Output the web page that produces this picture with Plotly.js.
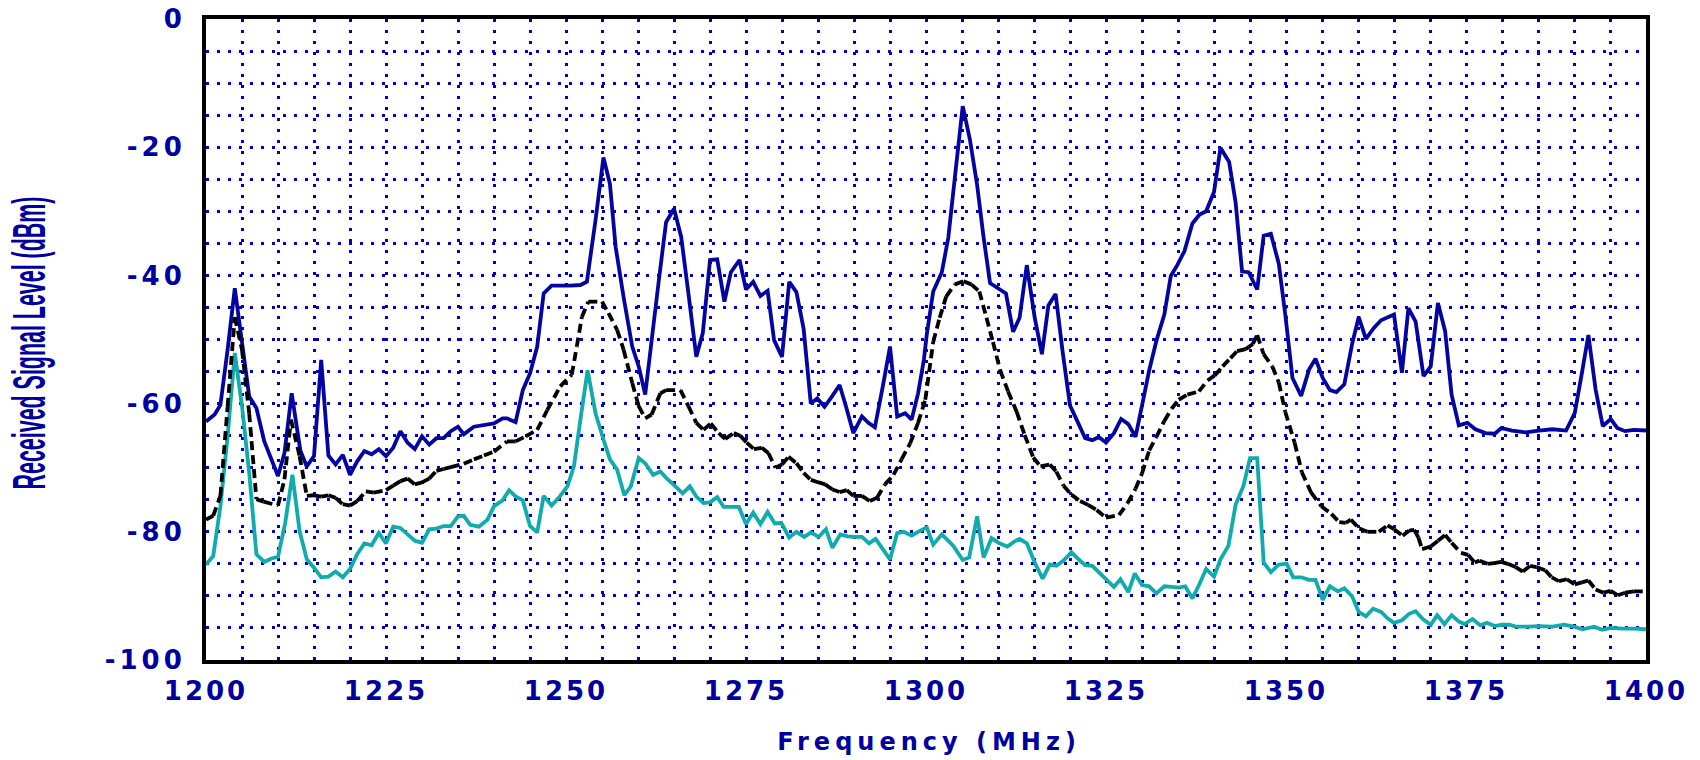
<!DOCTYPE html>
<html>
<head>
<meta charset="utf-8">
<script src="https://cdn.plot.ly/plotly-3.0.1.min.js"></script>
<style>
  html, body { margin: 0; padding: 0; background: #ffffff; }
  #chart { width: 1700px; height: 760px; }
</style>
</head>
<body>
<div id="chart"></div>
<script>
// ---- Data ----
const blueFreq = [1200,1201.2,1202,1203,1204,1206,1207,1208.1,1210,1210.9,1211.9,1213.1,1214,1215,1216,1217,1218,1219,1220,1221,1222,1223,1224,1225,1226,1227,1228,1229,1230,1231,1232,1233,1234,1235,1235.8,1237.2,1240,1241.2,1241.8,1243,1244,1245,1246,1246.9,1248,1250.6,1252,1252.9,1254.1,1255.2,1256.1,1256.9,1258,1259.2,1260.1,1261,1261.9,1262.9,1263.9,1265,1266,1267,1268.1,1269,1270,1271,1272,1272.9,1274.1,1275,1276,1277,1278,1278.9,1280,1281,1282,1283,1284,1284.9,1285.9,1287,1288,1288.9,1289.9,1291.1,1292,1292.9,1294,1295,1296,1297.1,1298,1298.9,1299.7,1300.1,1301,1302.2,1303.1,1304,1305.1,1306.1,1307.1,1308,1308.9,1310,1311.1,1312.1,1313,1314,1315.1,1316.1,1317,1318,1319,1320,1321,1322.1,1323.1,1324,1325,1326.1,1327.1,1328.1,1329.1,1330,1331,1332,1333.1,1334,1334.9,1335.9,1337,1338,1338.9,1340,1340.9,1342.1,1343,1343.9,1344.8,1346,1346.9,1347.9,1349,1349.9,1350.9,1352.1,1353.2,1354.1,1355.1,1356.1,1357,1358.1,1359.2,1360.1,1361.1,1362.2,1363.2,1365,1366.1,1367,1368,1369.1,1370.1,1371.1,1372.1,1373,1374,1375.2,1376.3,1377.7,1379,1379.9,1381.4,1383.3,1385.1,1387,1388.9,1390.1,1391.1,1392,1393,1394,1395.1,1396,1397.1,1398.3,1400];
const blueLevel = [-62.8,-61.7,-60.2,-51.6,-42.0,-58.9,-60.7,-65.9,-71.3,-67.7,-58.4,-67.3,-69.8,-68.2,-53.2,-68.1,-69.5,-68.0,-71.1,-69.0,-67.4,-67.9,-67.1,-68.2,-66.9,-64.3,-66.1,-67.1,-65.1,-66.4,-65.4,-65.4,-64.3,-63.6,-64.8,-63.6,-63.1,-62.3,-62.3,-62.9,-57.9,-55.3,-51.1,-42.8,-41.6,-41.6,-41.5,-41.0,-31.4,-21.6,-25.7,-35.6,-43.4,-51.1,-54.2,-58.6,-50.1,-40.7,-31.7,-29.6,-34.0,-42.8,-52.7,-49.0,-37.6,-37.5,-44.1,-39.5,-37.6,-42.2,-41.0,-43.2,-42.4,-50.1,-52.7,-41.0,-42.6,-48.3,-60.0,-59.2,-60.5,-58.8,-57.1,-60.5,-64.6,-62.0,-63.0,-63.7,-57.3,-51.1,-62.0,-61.5,-62.5,-58.4,-53.2,-49.3,-42.5,-39.5,-34.1,-24.8,-13.6,-18.8,-25.9,-34.1,-41.2,-42.0,-42.8,-48.8,-46.6,-38.4,-46.6,-52.3,-44.7,-42.9,-52.1,-60.3,-62.7,-65.4,-65.7,-65.2,-66.1,-64.6,-62.4,-63.2,-65.2,-60.3,-54.8,-50.2,-46.1,-40.1,-38.4,-36.2,-31.9,-30.5,-30.0,-27.0,-20.1,-22.3,-28.6,-39.4,-39.5,-42.2,-33.8,-33.5,-38.2,-46.1,-56.0,-58.8,-54.7,-53.0,-56.0,-57.9,-58.2,-57.0,-50.6,-46.5,-49.9,-48.2,-47.0,-46.1,-55.2,-45.1,-47.2,-55.7,-54.2,-44.3,-48.7,-58.6,-63.4,-63.0,-64.0,-64.6,-64.7,-63.8,-64.2,-64.5,-64.2,-64.0,-64.2,-61.5,-55.2,-49.3,-57.8,-63.5,-62.4,-63.8,-64.3,-64.1,-64.2];

const blackFreq = [1200,1201,1202,1203,1204,1205,1206,1207,1208,1210,1210.9,1211.8,1213,1214,1215,1216,1217,1218,1219,1220,1221,1222.2,1223.3,1225,1226,1227,1228,1229,1230,1231,1232,1233,1234,1235.8,1237.2,1238.6,1240,1241.8,1243,1244.4,1246,1247.4,1249.2,1250.8,1251.5,1252.2,1253.1,1255,1255.9,1257.1,1258,1259.2,1260.1,1261,1261.9,1263.1,1263.9,1265.9,1267,1268.1,1269.1,1270.1,1271.2,1272.1,1273.3,1274.2,1275.1,1276.1,1277.2,1278.1,1279.1,1280,1280.9,1282,1283,1284,1285.1,1286,1287,1288,1289,1289.9,1291.1,1292.2,1293.2,1294.3,1295.5,1296.6,1297.8,1298.9,1299.9,1301,1301.9,1302.8,1304,1305.2,1306.3,1307.4,1308.4,1309.3,1310.3,1311.4,1312.6,1313.7,1314.9,1315.9,1317.2,1318.1,1319.1,1320.2,1321.4,1322.5,1323.7,1325,1326.8,1328,1329.1,1330,1331,1332,1333.1,1334.1,1335.1,1336.3,1337.9,1339.1,1340.1,1341.2,1342.3,1343.2,1344.4,1345.4,1346,1346.9,1348.1,1349,1349.9,1351.2,1352.2,1353.5,1354.9,1356.3,1357.4,1358.3,1359,1360.2,1361.3,1362.9,1364.1,1365,1366.2,1367.1,1367.8,1368.4,1368.9,1370.1,1371.1,1372.1,1373,1374.3,1375.3,1376.2,1376.9,1378,1378.9,1379.9,1380.8,1381.9,1382.9,1383.9,1384.8,1386,1386.9,1387.9,1389,1390.1,1391.1,1392,1393,1394.1,1395.1,1396.1,1397.1,1398.3,1400];
const blackLevel = [-78.1,-77.5,-74.4,-60.5,-46.5,-51.6,-61.5,-74.9,-75.3,-75.9,-71.8,-62.5,-68.2,-74.4,-74.3,-74.5,-74.3,-74.7,-75.7,-75.9,-75.2,-73.7,-73.9,-73.5,-72.8,-72.1,-71.7,-72.6,-72.3,-71.7,-70.5,-70.2,-69.9,-69.4,-68.7,-68.1,-67.5,-65.9,-65.9,-65.1,-64.1,-61.0,-57.3,-55.5,-51.1,-46.5,-44.1,-44.1,-45.9,-48.5,-51.6,-56.8,-60.4,-62.3,-61.7,-58.4,-57.9,-57.9,-60.4,-63.0,-64.1,-63.1,-64.6,-65.5,-64.6,-65.0,-66.1,-67.1,-66.9,-67.7,-70.0,-69.5,-68.3,-69.3,-70.8,-71.9,-72.3,-72.6,-73.4,-73.8,-73.5,-74.4,-74.4,-75.2,-74.7,-72.6,-71.1,-68.7,-66.2,-63.0,-59.4,-50.4,-46.6,-43.3,-41.4,-40.9,-41.4,-42.5,-46.6,-50.4,-54.8,-58.1,-61.3,-64.9,-68.4,-69.8,-69.5,-70.6,-72.8,-74.2,-75.2,-75.8,-76.6,-77.8,-77.4,-75.5,-73.3,-70.9,-67.3,-65.2,-62.7,-60.8,-59.4,-58.6,-58.1,-56.4,-55.6,-54.2,-52.9,-51.8,-51.5,-50.7,-49.3,-52.3,-54.2,-56.7,-61.3,-66.1,-70.7,-73.9,-76.0,-77.2,-78.5,-78.6,-78.1,-79.5,-80.0,-80.0,-79.0,-79.6,-80.6,-79.8,-79.7,-80.9,-82.7,-82.3,-81.4,-80.5,-81.7,-83.3,-83.6,-84.8,-84.5,-85.0,-84.9,-84.7,-85.0,-85.5,-86.2,-85.3,-85.5,-86.0,-87.1,-87.7,-87.4,-88.2,-87.9,-87.6,-89.0,-89.5,-89.2,-89.9,-89.5,-89.3,-89.3];

const tealFreq = [1200,1201,1202,1203,1204,1205,1206,1207,1208.1,1209,1210,1211,1212,1213,1214,1215,1216,1217,1218,1219,1220,1221,1222,1223,1224,1225,1226,1227,1228,1229,1230,1231,1232,1233,1234,1235,1235.8,1236.7,1237.9,1239.1,1240,1241.2,1242.1,1243,1244,1245,1246,1246.9,1248,1249.2,1250.2,1251.1,1252,1253,1254.1,1255.2,1256.1,1257.1,1258.1,1259,1260.1,1261,1262.1,1263.1,1264.1,1265.2,1266.2,1267.2,1268.1,1269.1,1270,1271,1271.9,1272.9,1274,1275,1276,1277,1278,1279,1279.9,1281,1282,1283.1,1284,1285.1,1286.1,1287,1288.1,1289.1,1290.1,1291.1,1292.1,1293,1294,1295,1296,1296.9,1298,1298.9,1300.1,1301,1302.2,1303.8,1305.1,1306,1307.1,1308,1309.1,1310.2,1311.3,1312.3,1313,1314,1315.1,1316.2,1317.2,1318.1,1319.1,1320.2,1321.3,1322.1,1323.1,1324.1,1325.1,1326.1,1327,1328.1,1329,1330,1331,1332,1333.1,1334.1,1335.1,1336,1337,1338,1338.9,1340,1340.9,1342,1343,1344.1,1345,1346,1346.9,1347.9,1349,1350.1,1351,1352.1,1353.2,1354.1,1355.1,1356.1,1357.2,1358.1,1359.2,1360.1,1361.1,1362.1,1363.2,1364.1,1365,1366.1,1367.1,1368,1369,1370.1,1371,1372,1373,1374,1374.8,1375.9,1377,1377.9,1379,1380,1381,1381.9,1383.7,1385.1,1387,1388.6,1390,1391.2,1392.8,1393.9,1395.1,1396.7,1398.3,1400];
const tealLevel = [-85.1,-83.8,-76.0,-65.1,-52.1,-60.4,-70.8,-83.5,-84.7,-84.2,-83.9,-78.6,-71.1,-79.9,-84.3,-85.6,-87.1,-87.0,-86.2,-87.1,-85.8,-83.5,-81.8,-82.1,-80.2,-81.8,-79.2,-79.4,-80.4,-81.4,-81.7,-79.6,-79.5,-79.1,-79.1,-77.6,-77.5,-78.9,-79.2,-78.1,-76.0,-75.1,-73.5,-74.5,-75.1,-79.1,-80.1,-74.4,-75.9,-74.4,-72.9,-69.8,-62.5,-54.8,-61.5,-65.6,-68.7,-70.3,-74.3,-72.9,-68.5,-69.3,-71.1,-70.6,-71.8,-72.9,-74.0,-72.9,-74.5,-75.5,-75.4,-74.6,-76.1,-76.1,-76.1,-78.8,-77.0,-78.8,-76.9,-78.7,-78.6,-80.9,-80.0,-80.8,-80.1,-80.8,-79.6,-82.5,-80.4,-80.7,-80.8,-80.8,-81.8,-81.1,-82.7,-84.3,-80.2,-80.0,-80.6,-80.0,-79.3,-82.0,-80.4,-82.2,-84.4,-84.0,-77.6,-84.0,-81.0,-81.8,-82.3,-81.5,-81.1,-81.8,-84.8,-87.3,-85.1,-85.3,-84.5,-83.2,-84.4,-85.2,-85.3,-86.4,-87.5,-88.6,-87.4,-89.4,-86.5,-88.3,-88.5,-89.6,-88.5,-88.6,-88.7,-88.5,-90.4,-88.1,-85.8,-87.0,-84.3,-82.2,-75.8,-72.8,-68.5,-68.5,-84.8,-86.3,-85.1,-85.0,-87.1,-87.1,-87.5,-87.5,-90.6,-88.5,-89.3,-88.8,-90.1,-92.5,-93.2,-92.0,-92.5,-93.5,-94.2,-93.8,-92.8,-92.4,-93.6,-94.5,-93.0,-94.4,-93.0,-94.0,-94.4,-93.6,-94.6,-94.2,-94.7,-94.5,-94.5,-94.8,-94.8,-94.7,-94.8,-94.5,-94.8,-95.2,-94.8,-95.3,-95.0,-95.1,-95.1,-95.2];

const xTickVals = [1200, 1225, 1250, 1275, 1300, 1325, 1350, 1375, 1400];
const xTickText = ['1200', '1225', '1250', '1275', '1300', '1325', '1350', '1375', '1400'];
const yTickVals = [0, -20, -40, -60, -80, -100];
const yTickText = ['0', '-20', '-40', '-60', '-80', '-100'];
const xTitle = 'Frequency (MHz)';
const yTitle = 'Received Signal Level (dBm)';

// The black trace is dashed per segment (pattern restarts on every segment),
// so it is handed to Plotly as separate two-point pieces.
const blackSegFreq = [], blackSegLevel = [];
for (let i = 0; i < blackFreq.length - 1; i++) {
  blackSegFreq.push(blackFreq[i], blackFreq[i + 1], null);
  blackSegLevel.push(blackLevel[i], blackLevel[i + 1], null);
}

const BLUE_TXT = '#0000a0';
const GRID = '#0000c8';

const traces = [
  { x: blueFreq, y: blueLevel, type: 'scatter', mode: 'lines',
    line: { color: '#0404a2', width: 3.8, simplify: false }, hoverinfo: 'x+y' },
  { x: tealFreq, y: tealLevel, type: 'scatter', mode: 'lines',
    line: { color: '#10abab', width: 3.8, simplify: false }, hoverinfo: 'x+y' },
  { x: blackSegFreq, y: blackSegLevel, type: 'scatter', mode: 'lines', connectgaps: false,
    line: { color: '#000000', width: 3.8, dash: '9px,5px', simplify: false }, hoverinfo: 'x+y' }
];

const gridStyle = { showgrid: true, gridcolor: GRID, gridwidth: 3, griddash: '3px,8px' };

const layout = {
  width: 1700, height: 760,
  margin: { l: 206, r: 54, t: 19, b: 100, pad: 0 },
  paper_bgcolor: '#ffffff', plot_bgcolor: '#ffffff',
  showlegend: false,
  xaxis: {
    range: [1200, 1400], autorange: false,
    tickmode: 'array', tickvals: xTickVals, ticktext: xTickText,
    ticks: '', ticklabelstandoff: 5,
    showline: true, mirror: true, linecolor: '#000000', linewidth: 4,
    zeroline: false,
    ...gridStyle,
    minor: { dtick: 5, tick0: 1200, ...gridStyle, ticks: '' },
    tickfont: { family: 'DejaVu Sans, Verdana, sans-serif', size: 26, weight: 'bold', color: BLUE_TXT },
    title: { text: xTitle, font: { family: 'DejaVu Sans, Verdana, sans-serif', size: 24, weight: 'bold', color: BLUE_TXT } }
  },
  yaxis: {
    range: [-100, 0], autorange: false,
    tickmode: 'array', tickvals: yTickVals, ticktext: yTickText,
    ticks: '', ticklabelstandoff: 11,
    showline: true, mirror: true, linecolor: '#000000', linewidth: 4,
    zeroline: false,
    ...gridStyle,
    minor: { dtick: 5, tick0: 0, ...gridStyle, ticks: '' },
    tickfont: { family: 'DejaVu Sans, Verdana, sans-serif', size: 26, weight: 'bold', color: BLUE_TXT },
    title: { text: yTitle, font: { family: 'Liberation Sans, Arial, sans-serif', size: 24, weight: 'bold', color: BLUE_TXT } }
  }
};

function restyleTitles() {
  const root = document.getElementById('chart');
  // x title: wide letter spacing, baseline near y=750, centred on the plot
  const xt = root.querySelector('.g-xtitle text');
  if (xt) {
    const g = xt.parentNode; if (g && g.removeAttribute) g.removeAttribute('transform');
    xt.setAttribute('x', 0); xt.setAttribute('y', 0); xt.removeAttribute('dy');
    xt.style.letterSpacing = '5px';
    xt.setAttribute('transform', 'translate(929,750)');
  }
  // y title: tall condensed lettering, rotated, baseline at x=45
  const yt = root.querySelector('.g-ytitle text');
  if (yt) {
    const g = yt.parentNode; if (g && g.removeAttribute) g.removeAttribute('transform');
    yt.setAttribute('x', 0); yt.setAttribute('y', 0); yt.removeAttribute('dy');
    const len = yt.getComputedTextLength() || 300;
    const sx = 293 / len;
    const sy = 33 / (0.716 * 24);
    yt.setAttribute('transform', 'translate(45,343) rotate(-90) scale(' + sx.toFixed(3) + ',' + sy.toFixed(3) + ')');
  }
  // tick labels slightly spaced, as in the reference lettering
  root.querySelectorAll('.xtick text').forEach(t => { t.style.letterSpacing = '3px'; });
  root.querySelectorAll('.ytick text').forEach(t => { t.style.letterSpacing = '4px'; });
}

Plotly.newPlot('chart', traces, layout, { displayModeBar: false, staticPlot: true }).then(restyleTitles);
</script>
</body>
</html>
